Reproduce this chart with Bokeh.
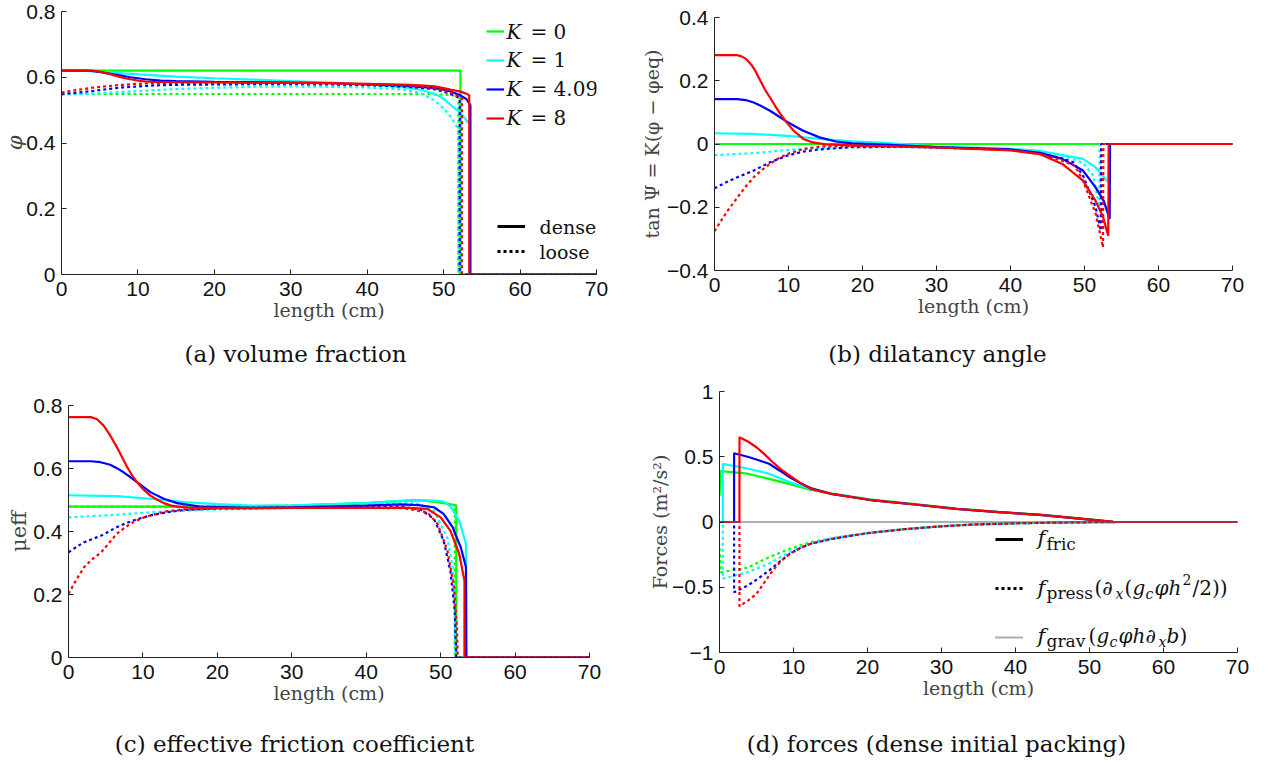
import numpy as np
from bokeh.plotting import figure
from bokeh.layouts import row, column
from bokeh.models import Range1d, FixedTicker, Label, Legend, LegendItem
from bokeh.embed import file_html
from bokeh.resources import INLINE

GREEN, CYAN, BLUE, RED = "#00ff00", "#00ffff", "#0000ff", "#ff0000"
K_COLORS = [GREEN, CYAN, BLUE, RED]
K_VALUES = ["0", "1", "4.09", "8"]
X_TICKS = [0, 10, 20, 30, 40, 50, 60, 70]
CAPTIONS = ["(a) volume fraction", "(b) dilatancy angle",
            "(c) effective friction coefficient", "(d) forces (dense initial packing)"]

# ---------------- (a) volume fraction ----------------
a_x_k0_d = [0, 52.2, 52.2, 70]
a_y_k0_d = [0.62, 0.62, 0, 0]
a_x_k0_l = [0, 10, 20, 30, 40, 46, 49, 51, 51.95, 51.95, 70]
a_y_k0_l = [0.549, 0.549, 0.549, 0.549, 0.549, 0.549, 0.548, 0.546, 0.54, 0, 0]
a_x_k1_d = [0, 3, 6, 10, 15, 20, 25, 30, 35, 40, 44.5, 47, 48.8, 50, 51, 52.1, 53.2, 53.4, 53.4, 70]
a_y_k1_d = [0.62, 0.619, 0.615, 0.609, 0.602, 0.597, 0.593, 0.588, 0.584, 0.578, 0.57, 0.562, 0.55, 0.535, 0.514, 0.494, 0.463, 0.46, 0, 0]
a_x_k1_l = [0, 3, 6, 10, 15, 20, 25, 30, 35, 40, 44.5, 47, 48.8, 50, 51, 51.6, 51.95, 51.95, 70]
a_y_k1_l = [0.547, 0.549, 0.553, 0.558, 0.564, 0.568, 0.571, 0.572, 0.571, 0.569, 0.563, 0.552, 0.529, 0.505, 0.478, 0.455, 0.44, 0, 0]
a_x_k4_d = [0, 3, 4, 5, 6, 7, 8, 9, 10, 11, 13, 15, 20, 25, 30, 35, 40, 44.5, 47, 48.8, 50, 51, 52.1, 53, 53.5, 53.5, 70]
a_y_k4_d = [0.62, 0.62, 0.619, 0.616, 0.612, 0.608, 0.604, 0.6, 0.597, 0.594, 0.59, 0.588, 0.586, 0.585, 0.584, 0.582, 0.578, 0.575, 0.571, 0.567, 0.562, 0.556, 0.546, 0.533, 0.515, 0, 0]
a_x_k4_l = [0, 2, 4, 6, 8, 10, 12, 15, 20, 25, 30, 35, 40, 44.5, 47, 48.8, 50, 51, 51.8, 52.1, 52.1, 70]
a_y_k4_l = [0.549, 0.553, 0.558, 0.564, 0.569, 0.572, 0.575, 0.577, 0.578, 0.579, 0.579, 0.578, 0.576, 0.572, 0.568, 0.563, 0.556, 0.548, 0.54, 0.535, 0, 0]
a_x_k8_d = [0, 2, 4, 5, 6, 7, 8, 9, 10, 11, 12, 15, 20, 25, 30, 35, 40, 44.5, 47, 48.8, 50, 51, 52.1, 53, 53.35, 53.35, 70]
a_y_k8_d = [0.62, 0.62, 0.62, 0.617, 0.612, 0.605, 0.599, 0.594, 0.59, 0.587, 0.586, 0.585, 0.584, 0.583, 0.583, 0.582, 0.58, 0.578, 0.575, 0.572, 0.567, 0.562, 0.557, 0.55, 0.545, 0, 0]
a_x_k8_l = [0, 2, 4, 6, 8, 10, 12, 15, 20, 25, 30, 35, 40, 44.5, 47, 48.8, 50, 51, 52, 52.4, 52.4, 70]
a_y_k8_l = [0.553, 0.561, 0.568, 0.573, 0.577, 0.58, 0.582, 0.583, 0.583, 0.583, 0.582, 0.581, 0.579, 0.576, 0.572, 0.567, 0.56, 0.552, 0.54, 0.535, 0, 0]

# ---------------- (b) dilatancy angle ----------------
b_x_k0_d = [0, 52.2, 70]
b_y_k0_d = [0, 0, 0]
b_x_k0_l = [0, 51.95, 70]
b_y_k0_l = [0, 0, 0]
b_x_k1_d = [0, 5, 9.8, 14.2, 18.6, 23, 30, 40, 44, 47, 49.8, 51.5, 52.9, 53.2, 53.25, 70]
b_y_k1_d = [0.034, 0.032, 0.026, 0.016, 0.008, 0.004, -0.008, -0.015, -0.022, -0.035, -0.047, -0.074, -0.112, -0.12, 0, 0]
b_x_k1_l = [0, 5.3, 9.8, 14.2, 18.6, 25, 30, 40, 44, 47, 49.8, 51.2, 52.0, 52.05, 70]
b_y_k1_l = [-0.035, -0.029, -0.019, -0.013, -0.01, -0.01, -0.011, -0.016, -0.022, -0.035, -0.06, -0.1, -0.2, 0, 0]
b_x_k4_d = [0, 3.1, 4.2, 5.3, 6.4, 7.5, 8.5, 9.55, 10.8, 12, 14.2, 16.4, 18.6, 23, 30, 40, 44, 47, 49.8, 51.5, 52.6, 53.4, 53.45, 70]
b_y_k4_d = [0.142, 0.142, 0.139, 0.131, 0.119, 0.105, 0.09, 0.074, 0.057, 0.042, 0.021, 0.008, 0.002, -0.002, -0.01, -0.017, -0.028, -0.047, -0.084, -0.137, -0.18, -0.237, 0, 0]
b_x_k4_l = [0, 1.5, 3.1, 5.3, 7.5, 9.8, 12, 14.2, 18.6, 25, 30, 40, 44, 47, 48.5, 49.8, 51.5, 52.2, 52.25, 70]
b_y_k4_l = [-0.14, -0.122, -0.105, -0.084, -0.058, -0.037, -0.024, -0.017, -0.01, -0.009, -0.011, -0.018, -0.03, -0.045, -0.058, -0.1, -0.2, -0.274, 0, 0]
b_x_k8_d = [0, 3, 3.6, 4.2, 5, 5.6, 6.2, 6.8, 7.5, 8.2, 8.9, 9.55, 10.7, 12, 13.3, 15, 20, 30, 40, 44, 47, 49.8, 51.5, 52.5, 53.2, 53.3, 70]
b_y_k8_d = [0.281, 0.281, 0.278, 0.27, 0.25, 0.228, 0.2, 0.173, 0.147, 0.12, 0.095, 0.074, 0.042, 0.016, 0.005, -0.001, -0.005, -0.011, -0.02, -0.032, -0.063, -0.116, -0.18, -0.23, -0.29, 0, 0]
b_x_k8_l = [0, 0.9, 1.8, 3.1, 4.2, 5.3, 6.4, 7.5, 8.6, 9.8, 12, 14.2, 18.6, 25, 30, 40, 44, 47, 48.7, 49.8, 51.5, 52.5, 52.55, 70]
b_y_k8_l = [-0.276, -0.242, -0.21, -0.169, -0.135, -0.105, -0.082, -0.063, -0.046, -0.032, -0.016, -0.008, -0.006, -0.008, -0.011, -0.019, -0.032, -0.053, -0.069, -0.116, -0.22, -0.327, 0, 0]

# ---------------- (c) effective friction coefficient ----------------
c_x_k0_d = [0, 10, 20, 30, 40, 45, 47, 49, 51, 52.1, 52.1, 70]
c_y_k0_d = [0.479, 0.479, 0.479, 0.482, 0.49, 0.497, 0.5, 0.495, 0.488, 0.483, 0, 0]
c_x_k0_l = [0, 10, 20, 30, 40, 45, 47, 49, 51, 51.9, 51.9, 70]
c_y_k0_l = [0.479, 0.479, 0.479, 0.482, 0.49, 0.497, 0.5, 0.495, 0.488, 0.483, 0, 0]
c_x_k1_d = [0, 6.5, 11, 15.5, 20, 24.5, 30, 40, 44.6, 47, 49, 50.4, 51.3, 52.5, 53.4, 53.45, 70]
c_y_k1_d = [0.515, 0.512, 0.504, 0.493, 0.487, 0.482, 0.483, 0.49, 0.497, 0.499, 0.498, 0.495, 0.48, 0.435, 0.361, 0, 0]
c_x_k1_l = [0, 6.5, 11, 15.5, 20, 24.5, 30, 40, 45, 47, 49.1, 50.9, 51.6, 51.9, 52.0, 70]
c_y_k1_l = [0.445, 0.453, 0.461, 0.466, 0.47, 0.472, 0.478, 0.486, 0.49, 0.488, 0.466, 0.38, 0.29, 0.17, 0, 0]
c_x_k4_d = [0, 3, 4.3, 5.6, 6.5, 7.4, 8.3, 9.2, 10.1, 11, 12.8, 14.6, 17.7, 24.5, 30, 40, 44.6, 47, 49.1, 50.4, 51.6, 52.7, 53.4, 53.45, 70]
c_y_k4_d = [0.623, 0.623, 0.62, 0.612, 0.601, 0.588, 0.573, 0.557, 0.541, 0.525, 0.504, 0.49, 0.479, 0.475, 0.477, 0.482, 0.486, 0.484, 0.477, 0.456, 0.414, 0.35, 0.287, 0, 0]
c_x_k4_l = [0, 1, 2.1, 3.2, 4.4, 5.5, 6.5, 7.6, 8.7, 11, 13.2, 15.5, 20, 30, 40, 45, 47.3, 49.1, 50.4, 51.3, 51.9, 52.1, 70]
c_y_k4_l = [0.334, 0.35, 0.366, 0.376, 0.387, 0.401, 0.414, 0.425, 0.435, 0.451, 0.461, 0.468, 0.474, 0.476, 0.478, 0.478, 0.47, 0.44, 0.371, 0.276, 0.149, 0, 0]
c_x_k8_d = [0, 3, 3.8, 4.7, 5.6, 6.5, 7.2, 7.9, 8.5, 9.2, 10, 11, 12, 12.8, 13.7, 14.6, 16, 24.5, 30, 40, 45, 48.2, 50, 51.3, 52.5, 53.2, 53.2, 70]
c_y_k8_d = [0.763, 0.763, 0.757, 0.737, 0.705, 0.668, 0.636, 0.604, 0.58, 0.557, 0.535, 0.514, 0.5, 0.49, 0.483, 0.479, 0.476, 0.474, 0.475, 0.475, 0.476, 0.472, 0.445, 0.403, 0.329, 0.244, 0, 0]
c_x_k8_l = [0, 1, 2.1, 3.2, 4.4, 5.5, 6.5, 7.6, 8.7, 9.8, 11, 13.2, 15.5, 20, 30, 40, 45, 48.2, 49.6, 50.9, 51.8, 52.2, 52.3, 70]
c_y_k8_l = [0.202, 0.245, 0.287, 0.312, 0.334, 0.365, 0.393, 0.413, 0.43, 0.442, 0.451, 0.464, 0.47, 0.472, 0.475, 0.475, 0.474, 0.461, 0.424, 0.34, 0.223, 0.096, 0, 0]

# ---------------- (d) forces (dense initial packing) ----------------
d_x_k0_fric = [0, 0.17, 3.8, 6.7, 9.5, 12.3, 15.1, 20.8, 26.4, 32, 37.7, 43.3, 49, 53.2, 70]
d_y_k0_fric = [0.2, 0.39, 0.37, 0.33, 0.29, 0.247, 0.218, 0.17, 0.137, 0.103, 0.077, 0.056, 0.026, 0.002, 0]
d_x_k1_fric = [0, 0.45, 0.45, 3.8, 6.7, 9.5, 12.3, 15.1, 20.8, 26.4, 32, 37.7, 43.3, 49, 53.2, 70]
d_y_k1_fric = [0, 0, 0.446, 0.41, 0.37, 0.305, 0.255, 0.217, 0.166, 0.135, 0.1, 0.075, 0.055, 0.024, 0.001, 0]
d_x_k4_fric = [0, 1.97, 1.97, 3.8, 5.2, 6.7, 8.1, 9.5, 10.9, 12.3, 15.1, 20.8, 26.4, 32, 37.7, 43.3, 49, 53.2, 70]
d_y_k4_fric = [0, 0, 0.527, 0.5, 0.475, 0.446, 0.395, 0.343, 0.298, 0.26, 0.216, 0.165, 0.134, 0.1, 0.075, 0.055, 0.024, 0.001, 0]
d_x_k8_fric = [0, 2.7, 2.7, 3.9, 5.0, 6.1, 7.2, 8.3, 9.5, 10.9, 12.3, 15.1, 20.8, 26.4, 32, 37.7, 43.3, 49, 53.2, 70]
d_y_k8_fric = [0, 0, 0.65, 0.615, 0.573, 0.518, 0.458, 0.404, 0.356, 0.3, 0.254, 0.216, 0.165, 0.134, 0.1, 0.075, 0.055, 0.024, 0.001, 0]
d_x_k0_press = [0, 0.17, 3.8, 6.7, 9.5, 12.3, 15.1, 20, 25, 30, 34, 40, 45, 50, 54, 70]
d_y_k0_press = [-0.2, -0.385, -0.35, -0.27, -0.205, -0.155, -0.125, -0.085, -0.055, -0.033, -0.02, -0.01, -0.005, -0.002, 0, 0]
d_x_k1_press = [0, 0.45, 0.45, 3.8, 6.7, 9.5, 12.3, 15.1, 20, 25, 30, 34, 40, 45, 50, 54, 70]
d_y_k1_press = [0, 0, -0.435, -0.385, -0.32, -0.23, -0.165, -0.13, -0.085, -0.055, -0.033, -0.02, -0.01, -0.005, -0.002, 0, 0]
d_x_k4_press = [0, 1.97, 1.97, 3.8, 5.2, 6.7, 8.1, 9.5, 10.9, 12.3, 15.1, 20, 25, 30, 34, 40, 45, 50, 54, 70]
d_y_k4_press = [0, 0, -0.538, -0.487, -0.435, -0.372, -0.305, -0.244, -0.2, -0.167, -0.13, -0.085, -0.055, -0.033, -0.02, -0.01, -0.005, -0.002, 0, 0]
d_x_k8_press = [0, 2.7, 2.7, 3.9, 5.0, 6.1, 7.2, 8.3, 9.5, 10.9, 12.3, 15.1, 20, 25, 30, 34, 40, 45, 50, 54, 70]
d_y_k8_press = [0, 0, -0.647, -0.6, -0.55, -0.46, -0.372, -0.3, -0.244, -0.2, -0.167, -0.13, -0.085, -0.055, -0.033, -0.02, -0.01, -0.005, -0.002, 0, 0]
d_x_grav = [0, 70]
d_y_grav = [0, 0]

A_SERIES = [(a_x_k0_d, a_y_k0_d, a_x_k0_l, a_y_k0_l), (a_x_k1_d, a_y_k1_d, a_x_k1_l, a_y_k1_l),
            (a_x_k4_d, a_y_k4_d, a_x_k4_l, a_y_k4_l), (a_x_k8_d, a_y_k8_d, a_x_k8_l, a_y_k8_l)]
B_SERIES = [(b_x_k0_d, b_y_k0_d, b_x_k0_l, b_y_k0_l), (b_x_k1_d, b_y_k1_d, b_x_k1_l, b_y_k1_l),
            (b_x_k4_d, b_y_k4_d, b_x_k4_l, b_y_k4_l), (b_x_k8_d, b_y_k8_d, b_x_k8_l, b_y_k8_l)]
C_SERIES = [(c_x_k0_d, c_y_k0_d, c_x_k0_l, c_y_k0_l), (c_x_k1_d, c_y_k1_d, c_x_k1_l, c_y_k1_l),
            (c_x_k4_d, c_y_k4_d, c_x_k4_l, c_y_k4_l), (c_x_k8_d, c_y_k8_d, c_x_k8_l, c_y_k8_l)]
D_SERIES = [(d_x_k0_fric, d_y_k0_fric, d_x_k0_press, d_y_k0_press), (d_x_k1_fric, d_y_k1_fric, d_x_k1_press, d_y_k1_press),
            (d_x_k4_fric, d_y_k4_fric, d_x_k4_press, d_y_k4_press), (d_x_k8_fric, d_y_k8_fric, d_x_k8_press, d_y_k8_press)]

SERIF = "DejaVu Serif"
LW = 2.2
DOT = "3 3"
LABEL_GREY = "#444444"


def make_fig(left, right, top, bottom, fw, fh, yr, yticks, ylabels, ylabel, ylabel_size, ylabel_style, ylabel_standoff):
    p = figure(width=left + fw + right, height=top + fh + bottom,
               x_range=Range1d(0, 70), y_range=Range1d(*yr),
               output_backend="svg", toolbar_location=None,
               min_border_left=left, min_border_right=right,
               min_border_top=top, min_border_bottom=bottom)
    p.frame_align = False
    p.grid.visible = False
    p.outline_line_color = None
    p.background_fill_color = "white"
    p.border_fill_color = "white"
    p.xaxis.ticker = FixedTicker(ticks=X_TICKS)
    p.yaxis.ticker = FixedTicker(ticks=yticks)
    p.yaxis.major_label_overrides = {t: l for t, l in zip(yticks, ylabels)}
    for ax in (p.xaxis, p.yaxis):
        ax.axis_line_color = "#222222"
        ax.major_tick_line_color = "#222222"
        ax.major_tick_in = 5
        ax.major_tick_out = 0
        ax.minor_tick_in = 0
        ax.minor_tick_out = 0
        ax.major_label_text_font = "Liberation Sans"
        ax.major_label_text_font_size = "21px"
        ax.major_label_text_color = "#111111"
        ax.axis_label_text_font = SERIF
        ax.axis_label_text_color = LABEL_GREY
    p.yaxis.major_label_standoff = 6
    p.xaxis.major_label_standoff = 7
    p.xaxis.axis_label = "length (cm)"
    p.xaxis.axis_label_text_font_size = "19px"
    p.xaxis.axis_label_text_font_style = "normal"
    p.xaxis.axis_label_standoff = 0
    p.yaxis.axis_label = ylabel
    p.yaxis.axis_label_text_font_size = f"{ylabel_size}px"
    p.yaxis.axis_label_text_font_style = ylabel_style
    p.yaxis.axis_label_standoff = ylabel_standoff
    return p


def caption_strip(height, items):
    # a plain strip whose frame covers the whole canvas; holds the sub-figure captions
    p = figure(width=1276, height=height, x_range=Range1d(0, 1), y_range=Range1d(0, 1),
               x_axis_type=None, y_axis_type=None, output_backend="svg", toolbar_location=None,
               min_border=0)
    p.frame_align = False
    p.grid.visible = False
    p.outline_line_color = None
    p.border_fill_color = "white"
    for text, cx, cy in items:
        p.add_layout(Label(x=cx, y=height - cy, x_units="screen", y_units="screen", text=text,
                           text_font=SERIF, text_font_size="23px", text_align="center",
                           text_baseline="middle", text_color="#111111"))
    return p


def lab(p, X, Y, text, size, style="normal", dy=0.0):
    # X, Y are screen pixels measured from the frame's bottom-left corner
    p.add_layout(Label(x=X, y=Y + dy, x_units="screen", y_units="screen",
                       text=text, text_font=SERIF, text_font_size=f"{size}px",
                       text_font_style=style, text_align="left", text_baseline="middle",
                       text_color="#111111"))


def draw_k_curves(p, series):
    dense = []
    for (xd, yd, xl, yl), col in zip(series, K_COLORS):
        rd = p.line(xd, yd, line_color=col, line_width=LW)
        p.line(xl, yl, line_color=col, line_width=LW, line_dash=DOT)
        dense.append(rd)
    return dense


def legend(p, renderers, loc, gw, spacing):
    lg = Legend(items=[LegendItem(label=" ", renderers=[r]) for r in renderers],
                location=loc, glyph_width=gw, glyph_height=20, label_height=20,
                spacing=spacing, padding=0, margin=0, label_standoff=0,
                border_line_color=None, background_fill_alpha=0)
    p.add_layout(lg)


# ---- panel (a): frame left 58, top 11, bottom 274  (row 1 spans y 0..330)
pa = make_fig(58, 42, 11, 56, 538, 263, (0, 0.8), [0, 0.2, 0.4, 0.6, 0.8], ["0", "0.2", "0.4", "0.6", "0.8"],
              "φ", 21, "italic", -4)
dense_a = draw_k_curves(pa, A_SERIES)
r_dense = pa.line([np.nan], [np.nan], line_color="black", line_width=3)
r_loose = pa.line([np.nan], [np.nan], line_color="black", line_width=3, line_dash=DOT)
legend(pa, dense_a, (425, 146), 18, 9)
legend(pa, [r_dense, r_loose], (436, 13), 28, 5)
for kv, yy in zip(K_VALUES, [31, 59, 88, 117]):
    lab(pa, 503 - 58, 274 - yy, "K", 20, style="italic")
    lab(pa, 527 - 58, 274 - yy, "= " + kv, 20)
lab(pa, 536 - 58, 274 - 226, "dense", 19)
lab(pa, 536 - 58, 274 - 251, "loose", 19)

# ---- panel (b): frame left 707, top 17, bottom 270
pb = make_fig(69, 44, 17, 60, 525, 253, (-0.4, 0.4), [-0.4, -0.2, 0, 0.2, 0.4], ["−0.4", "−0.2", "0", "0.2", "0.4"],
              "tan Ψ = K(φ − φeq)", 19, "normal", 1)
draw_k_curves(pb, B_SERIES)

# ---- panel (c): frame left 68, top 405, bottom 657  (row 2 spans y 378..720)
pc = make_fig(68, 49, 27, 63, 521, 252, (0, 0.8), [0, 0.2, 0.4, 0.6, 0.8], ["0", "0.2", "0.4", "0.6", "0.8"],
              "μeff", 21, "normal", -1)
draw_k_curves(pc, C_SERIES)

# ---- panel (d): frame left 719, top 391, bottom 652
pd_ = make_fig(81, 39, 13, 68, 518, 261, (-1, 1), [-1, -0.5, 0, 0.5, 1], ["−1", "−0.5", "0", "0.5", "1"],
               "Forces (m²/s²)", 19, "normal", -2)
for (xf, yf, xp, yp), col in zip(D_SERIES, K_COLORS):
    pd_.line(xf, yf, line_color=col, line_width=LW)
    pd_.line(xp, yp, line_color=col, line_width=LW, line_dash=DOT)
r_grav = pd_.line(d_x_grav, d_y_grav, line_color="#5a5a70", line_width=1.8, line_dash="1 1")
r_fric = pd_.line([np.nan], [np.nan], line_color="black", line_width=3)
r_press = pd_.line([np.nan], [np.nan], line_color="black", line_width=3, line_dash=DOT)
legend(pd_, [r_fric, r_press, r_grav], (276, 5), 28, 29)
FLD, FBD = 719, 652
# f_fric
lab(pd_, 1037 - FLD, FBD - 537, "f", 21, style="italic")
lab(pd_, 1046 - FLD, FBD - 543, "fric", 17)
# f_press(...)
Y2 = FBD - 587
lab(pd_, 1037 - FLD, Y2, "f", 21, style="italic")
lab(pd_, 1046 - FLD, Y2, "press", 17, dy=-5)
lab(pd_, 1094 - FLD, Y2, "(∂", 20)
lab(pd_, 1115 - FLD, Y2, "x", 14, style="italic", dy=-6)
lab(pd_, 1124 - FLD, Y2, "(", 20)
lab(pd_, 1132 - FLD, Y2, "g", 20, style="italic")
lab(pd_, 1145 - FLD, Y2, "c", 14, style="italic", dy=-6)
lab(pd_, 1154 - FLD, Y2, "φh", 20, style="italic")
lab(pd_, 1182 - FLD, Y2, "2", 14, dy=8)
lab(pd_, 1192 - FLD, Y2, "/2))", 20)
# f_grav(...)
Y3 = FBD - 635
lab(pd_, 1037 - FLD, Y3, "f", 21, style="italic")
lab(pd_, 1046 - FLD, Y3, "grav", 17, dy=-5)
lab(pd_, 1088 - FLD, Y3, "(", 20)
lab(pd_, 1096 - FLD, Y3, "g", 20, style="italic")
lab(pd_, 1109 - FLD, Y3, "c", 14, style="italic", dy=-6)
lab(pd_, 1118 - FLD, Y3, "φh∂", 20, style="italic")
lab(pd_, 1158 - FLD, Y3, "x", 14, style="italic", dy=-6)
lab(pd_, 1166 - FLD, Y3, "b", 20, style="italic")
lab(pd_, 1179 - FLD, Y3, ")", 20)

# captions: strip 1 spans y 330..378, strip 2 spans y 720..765
cap1 = caption_strip(48, [(CAPTIONS[0], 295, 353 - 330), (CAPTIONS[1], 937, 353 - 330)])
cap2 = caption_strip(45, [(CAPTIONS[2], 294, 743 - 720), (CAPTIONS[3], 936, 743 - 720)])

layout = column(row(pa, pb, spacing=0), cap1, row(pc, pd_, spacing=0), cap2, spacing=0)
open("out.html", "w").write(file_html(layout, INLINE))
